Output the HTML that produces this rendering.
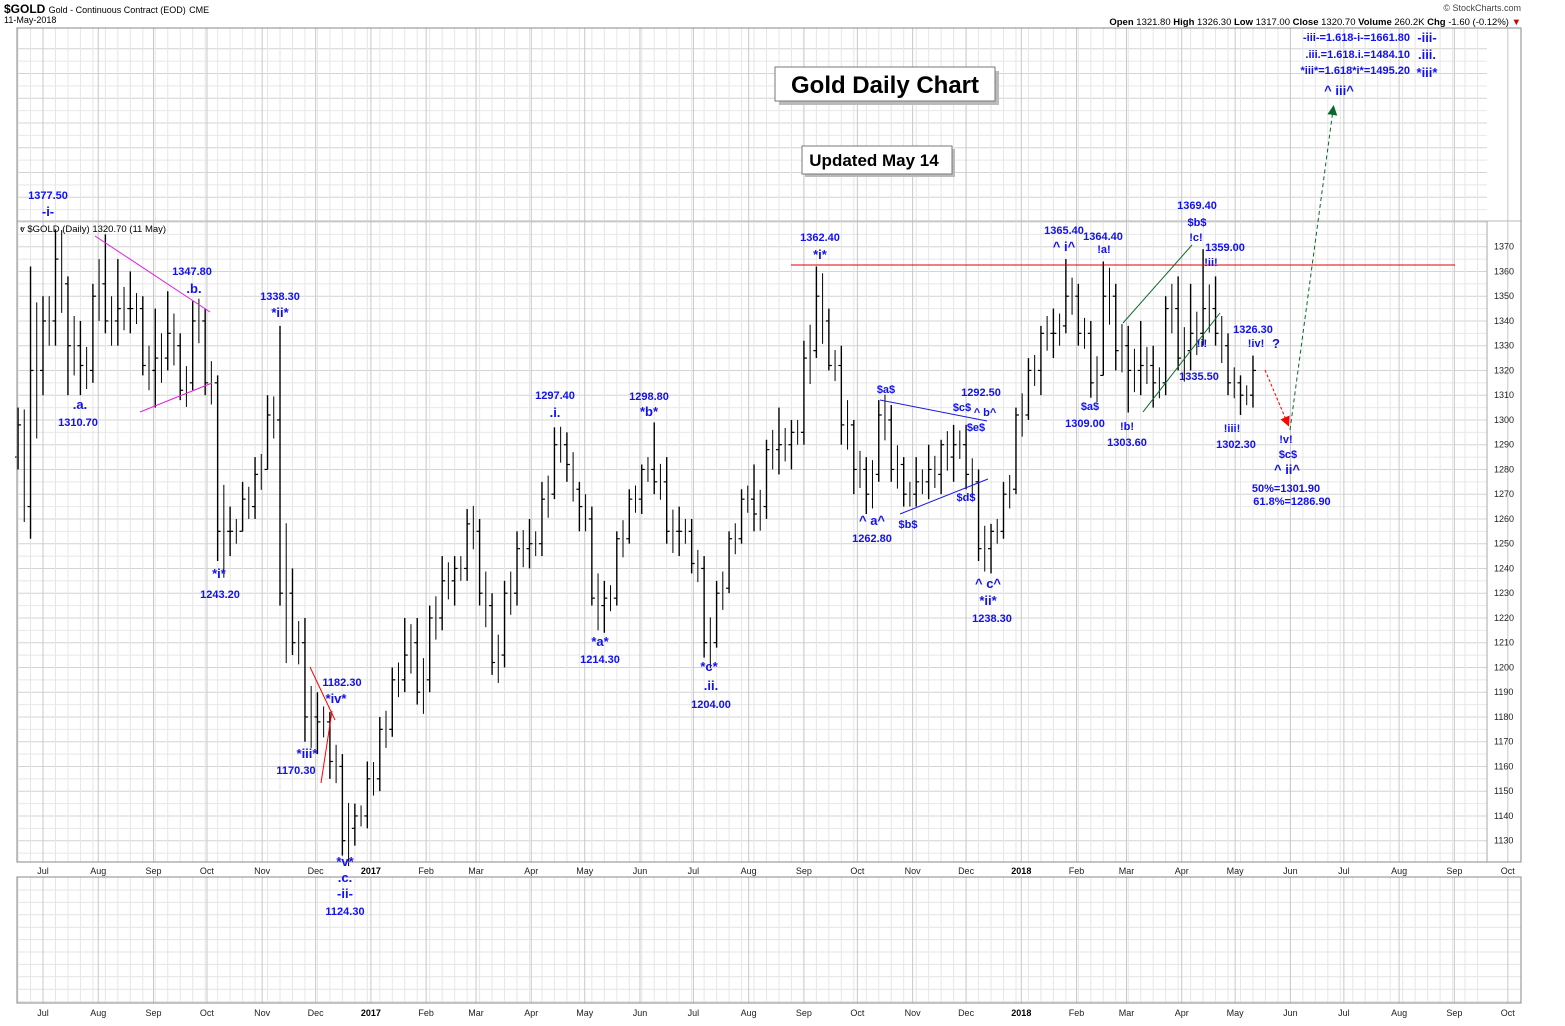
<!DOCTYPE html>
<html><head><meta charset="utf-8"><style>
body{margin:0;background:#fff;width:1565px;height:1021px;overflow:hidden;font-family:"Liberation Sans",sans-serif}
svg text{font-family:"Liberation Sans",sans-serif}
.lb{fill:#1010f0;font-weight:bold;font-size:11px;text-anchor:middle}
.wv{fill:#1010f0;font-weight:bold;font-size:13px;text-anchor:middle}
.eq{fill:#1010f0;font-weight:bold;font-size:11px;text-anchor:end}
</style></head><body>
<svg id="chart" width="1565" height="1021" viewBox="0 0 1565 1021">
<g id="grid"></g>
<g id="bars"></g>
<g id="axes"></g>
<g id="ann"></g>
</svg>
<script>
const weekHigh=[1305,1362,1350,1377,1358,1340,1355,1375,1365,1360,1350,1345,1352,1335,1348,1345,1318,1265,1275,1285,1310,1338,1240,1220,1190,1182,1165,1145,1162,1180,1200,1220,1220,1225,1245,1245,1264,1260,1230,1235,1255,1260,1275,1297,1295,1275,1265,1235,1255,1272,1282,1299,1285,1265,1260,1245,1235,1255,1272,1282,1292,1305,1300,1332,1362,1345,1330,1300,1285,1308,1306,1285,1285,1290,1292,1298,1298,1280,1258,1275,1305,1325,1338,1345,1365,1355,1340,1364,1355,1338,1340,1330,1350,1358,1355,1369,1358,1335,1318,1326];
const weekLow=[1280,1252,1310,1330,1310,1310,1315,1335,1330,1335,1318,1305,1320,1308,1312,1310,1243,1245,1255,1260,1280,1225,1205,1170,1165,1155,1124,1128,1135,1150,1172,1190,1185,1190,1215,1225,1235,1225,1197,1200,1225,1240,1245,1268,1275,1255,1225,1214,1225,1250,1262,1270,1250,1245,1238,1204,1208,1230,1250,1255,1260,1278,1280,1290,1325,1320,1290,1270,1262,1275,1275,1265,1265,1268,1270,1275,1272,1243,1238,1252,1270,1300,1310,1325,1335,1330,1309,1318,1320,1303,1310,1305,1310,1320,1320,1330,1330,1310,1302,1305];
const weekOpen=[1285,1265,1320,1340,1355,1330,1320,1355,1340,1345,1345,1320,1325,1330,1315,1340,1315,1255,1255,1265,1280,1300,1230,1210,1180,1178,1160,1135,1140,1155,1175,1195,1210,1195,1220,1235,1240,1255,1225,1205,1230,1248,1250,1270,1290,1272,1260,1225,1228,1252,1268,1280,1275,1255,1255,1240,1210,1232,1252,1268,1265,1288,1290,1295,1328,1340,1322,1298,1280,1278,1300,1282,1270,1275,1278,1285,1290,1275,1248,1255,1272,1302,1320,1335,1338,1350,1335,1318,1350,1330,1320,1322,1315,1345,1328,1335,1345,1330,1315,1310];
const weekClose=[1298,1320,1340,1365,1330,1322,1350,1340,1345,1345,1322,1325,1335,1312,1340,1315,1255,1255,1268,1278,1302,1230,1210,1180,1178,1162,1130,1140,1155,1175,1195,1205,1190,1220,1235,1240,1258,1230,1202,1230,1248,1250,1268,1290,1282,1265,1228,1228,1252,1268,1280,1275,1255,1255,1242,1210,1230,1252,1268,1262,1288,1290,1295,1325,1350,1322,1298,1280,1270,1302,1280,1270,1275,1280,1290,1290,1278,1248,1255,1270,1302,1320,1335,1335,1350,1335,1315,1350,1328,1320,1322,1315,1345,1325,1335,1345,1335,1315,1310,1320];
const priceTicks=[1130,1140,1150,1160,1170,1180,1190,1200,1210,1220,1230,1240,1250,1260,1270,1280,1290,1300,1310,1320,1330,1340,1350,1360,1370];
const monthLabels=["Jul","Aug","Sep","Oct","Nov","Dec","2017","Feb","Mar","Apr","May","Jun","Jul","Aug","Sep","Oct","Nov","Dec","2018","Feb","Mar","Apr","May","Jun","Jul","Aug","Sep","Oct"];
const monthDays=[0,31,62,92,123,153,184,215,243,274,304,335,365,396,427,457,488,518,549,580,608,639,669,700,730,761,792,822];

const NS="http://www.w3.org/2000/svg";
const yOf=p=>246.7+(1370-p)*2.475;
const xOfDay=d=>43+d*1.782;
const xOfWeek=i=>xOfDay(-14+7*i);
function mk(parent,tag,attrs,txt){const e=document.createElementNS(NS,tag);for(const k in attrs)e.setAttribute(k,attrs[k]);if(txt!==undefined)e.textContent=txt;document.getElementById(parent).appendChild(e);return e;}

for(let p=1100;p<=1450;p+=5){const y=yOf(p);if(y<28||y>862)continue;
 const g=mk('grid','line',{x1:17,x2:1487,y1:y,y2:y,stroke:p%10===0?'#d4d4d4':'#e8e8e8','stroke-width':1});
 
 }
for(let y=890;y<1003;y+=12.4){const g=mk('grid','line',{x1:17,x2:1521,y1:y,y2:y,stroke:'#e4e4e4'});
 
 }
for(let d=-14;d<=840;d+=7){const x=xOfDay(d);if(x<17||x>1487)continue;
 for(const [a,b] of [[28,862],[877,1003]]){const g=mk('grid','line',{x1:x,x2:x,y1:a,y2:b,stroke:'#e6e6e6'});
 
 }}
monthDays.forEach((d,i)=>{const x=xOfDay(d);
 for(const [a,b] of [[28,862],[877,1003]]){const g=mk('grid','line',{x1:x,x2:x,y1:a,y2:b,stroke:'#c8c8c8'});
 
 }
 for(const y of [874,1016]){const t=mk('axes','text',{x:x,y:y,'font-size':9,'text-anchor':'middle',fill:(monthLabels[i].length===4?'#000':'#222'),'font-weight':monthLabels[i].length===4?'bold':'normal'},monthLabels[i]);
 
 }});
{const l=mk('grid','line',{x1:17,x2:1521,y1:221,y2:221,stroke:'#b8b8b8'});

}
for(const r of [[17,28,1504,834],[17,877,1504,126]]){const b=mk('axes','rect',{x:r[0],y:r[1],width:r[2],height:r[3],fill:'none',stroke:'#888'});
 
 }
{const b=mk('axes','line',{x1:1487,x2:1487,y1:221,y2:862,stroke:'#aaa'});

}
priceTicks.forEach(p=>{const t=mk('axes','text',{x:1494,y:yOf(p)+3,'font-size':9,fill:'#222'},p);
 
 });

weekHigh.forEach((h,i)=>{const x=xOfWeek(i);
 const b=mk('bars','line',{x1:x,x2:x,y1:yOf(h),y2:yOf(weekLow[i]),stroke:'#000','stroke-width':1.4});
 
 
 const o=mk('bars','line',{x1:x-3,x2:x,y1:yOf(weekOpen[i]),y2:yOf(weekOpen[i]),stroke:'#000','stroke-width':1.2});
 
 
 const c=mk('bars','line',{x1:x,x2:x+3,y1:yOf(weekClose[i]),y2:yOf(weekClose[i]),stroke:'#000','stroke-width':1.2});
 
 
 if(i<weekHigh.length-1){const x2=x+6.2;const hi=Math.max(weekClose[i],weekOpen[i+1])+(h-weekLow[i])*0.25;const lo=Math.min(weekClose[i],weekOpen[i+1])-(h-weekLow[i])*0.25;
 const d=mk('bars','line',{x1:x2,x2:x2,y1:yOf(hi),y2:yOf(lo),stroke:'#000','stroke-width':1});
 
 }
});
</script>
<svg style="position:absolute;left:0;top:0" width="1565" height="1021">
<defs>
<marker id="ar" markerWidth="10" markerHeight="10" refX="5" refY="5" orient="auto"><path d="M0,0 L10,5 L0,10 z" fill="red"/></marker>
<marker id="ag" markerWidth="10" markerHeight="10" refX="5" refY="5" orient="auto"><path d="M0,0 L10,5 L0,10 z" fill="#0a6a2a"/></marker>
</defs>
<text x="4" y="13" font-size="12" font-weight="bold">$GOLD <tspan font-size="9" font-weight="normal">Gold - Continuous Contract (EOD)</tspan> <tspan font-size="9" font-weight="normal">CME</tspan></text>
<text x="4" y="23" font-size="9">11-May-2018</text>
<text x="1521" y="11" font-size="9" text-anchor="end" fill="#444">© StockCharts.com</text>
<text x="1521" y="25" font-size="9.5" text-anchor="end"><tspan font-weight="bold">Open</tspan> 1321.80 <tspan font-weight="bold">High</tspan> 1326.30 <tspan font-weight="bold">Low</tspan> 1317.00 <tspan font-weight="bold">Close</tspan> 1320.70 <tspan font-weight="bold">Volume</tspan> 260.2K <tspan font-weight="bold">Chg</tspan> -1.60 (-0.12%) <tspan fill="#c00">▼</tspan></text>
<text x="20" y="232" font-size="9.5">ⱴ $GOLD (Daily) 1320.70 (11 May)</text>
<rect x="779" y="71" width="220" height="34" fill="#bbb"/>
<rect x="775" y="67" width="220" height="34" fill="#fff" stroke="#777"/>
<text x="885" y="93" font-size="24" font-weight="bold" text-anchor="middle">Gold Daily Chart</text>
<rect x="805" y="149" width="150" height="28" fill="#bbb"/>
<rect x="802" y="146" width="150" height="28" fill="#fff" stroke="#777"/>
<text x="874" y="166" font-size="17" font-weight="bold" text-anchor="middle">Updated May 14</text>
<g fill="none">
<line x1="95" y1="236" x2="210" y2="312" stroke="#e020e0"/>
<line x1="140" y1="412" x2="212" y2="383" stroke="#e020e0"/>
<line x1="310" y1="667" x2="335" y2="720" stroke="red"/>
<line x1="321" y1="783" x2="332" y2="711" stroke="red"/>
<line x1="791" y1="265" x2="1455" y2="265" stroke="#d00"/>
<line x1="880" y1="400" x2="987" y2="421" stroke="#1a1ae0"/>
<line x1="900" y1="514" x2="988" y2="479" stroke="#1a1ae0"/>
<line x1="1123" y1="323" x2="1192" y2="245" stroke="#0a6a2a"/>
<line x1="1143" y1="412" x2="1220" y2="313" stroke="#0a6a2a"/>
<line x1="1265" y1="370" x2="1287" y2="422" stroke="red" stroke-dasharray="3,2" marker-end="url(#ar)"/>
<line x1="1290" y1="430" x2="1333" y2="110" stroke="#0a6a2a" stroke-dasharray="4,3" marker-end="url(#ag)"/>
</g>
<g>
<text class="lb" x="48" y="199">1377.50</text><text class="wv" x="48" y="216">-i-</text>
<text class="wv" x="80" y="409">.a.</text><text class="lb" x="78" y="426">1310.70</text>
<text class="lb" x="192" y="275">1347.80</text><text class="wv" x="194" y="293">.b.</text>
<text class="lb" x="280" y="300">1338.30</text><text class="wv" x="280" y="317">*ii*</text>
<text class="wv" x="219" y="578">*i*</text><text class="lb" x="220" y="598">1243.20</text>
<text class="lb" x="342" y="686">1182.30</text><text class="wv" x="336" y="703">*iv*</text>
<text class="wv" x="307" y="758">*iii*</text><text class="lb" x="296" y="774">1170.30</text>
<text class="wv" x="345" y="866">*v*</text><text class="wv" x="345" y="882">.c.</text><text class="wv" x="345" y="898">-ii-</text><text class="lb" x="345" y="915">1124.30</text>
<text class="lb" x="555" y="399">1297.40</text><text class="wv" x="555" y="417">.i.</text>
<text class="wv" x="600" y="646">*a*</text><text class="lb" x="600" y="663">1214.30</text>
<text class="lb" x="649" y="400">1298.80</text><text class="wv" x="649" y="416">*b*</text>
<text class="wv" x="709" y="671">*c*</text><text class="wv" x="711" y="690">.ii.</text><text class="lb" x="711" y="708">1204.00</text>
<text class="lb" x="820" y="241">1362.40</text><text class="wv" x="820" y="259">*i*</text>
<text class="wv" x="872" y="525">^ a^</text><text class="lb" x="872" y="542">1262.80</text>
<text class="lb" x="886" y="393">$a$</text><text class="lb" x="908" y="528">$b$</text>
<text class="lb" x="981" y="396">1292.50</text>
<text class="lb" x="962" y="411">$c$</text><text class="lb" x="985" y="416">^ b^</text><text class="lb" x="976" y="431">$e$</text><text class="lb" x="966" y="501">$d$</text>
<text class="wv" x="988" y="588">^ c^</text><text class="wv" x="988" y="605">*ii*</text><text class="lb" x="992" y="622">1238.30</text>
<text class="lb" x="1064" y="234">1365.40</text><text class="wv" x="1064" y="251">^ i^</text>
<text class="lb" x="1103" y="240">1364.40</text><text class="lb" x="1104" y="253">!a!</text>
<text class="lb" x="1090" y="410">$a$</text><text class="lb" x="1085" y="427">1309.00</text>
<text class="lb" x="1127" y="430">!b!</text><text class="lb" x="1127" y="446">1303.60</text>
<text class="lb" x="1197" y="209">1369.40</text><text class="lb" x="1197" y="226">$b$</text><text class="lb" x="1196" y="241">!c!</text>
<text class="lb" x="1225" y="251">1359.00</text><text class="lb" x="1211" y="266">!ii!</text>
<text class="lb" x="1202" y="347">!i!</text><text class="lb" x="1199" y="380">1335.50</text>
<text class="lb" x="1253" y="333">1326.30</text><text class="lb" x="1256" y="347">!iv!</text><text class="wv" x="1276" y="348">?</text>
<text class="lb" x="1232" y="432">!iii!</text><text class="lb" x="1236" y="448">1302.30</text>
<text class="lb" x="1286" y="443">!v!</text><text class="lb" x="1288" y="458">$c$</text><text class="wv" x="1287" y="474">^ ii^</text>
<text class="lb" x="1286" y="492">50%=1301.90</text><text class="lb" x="1292" y="505">61.8%=1286.90</text>
<text class="eq" x="1410" y="41">-iii-=1.618-i-=1661.80</text><text class="wv" x="1427" y="42">-iii-</text>
<text class="eq" x="1410" y="58">.iii.=1.618.i.=1484.10</text><text class="wv" x="1427" y="59">.iii.</text>
<text class="eq" x="1410" y="74">*iii*=1.618*i*=1495.20</text><text class="wv" x="1427" y="77">*iii*</text>
<text class="wv" x="1339" y="95">^ iii^</text>
</g>
</svg>
</body></html>
